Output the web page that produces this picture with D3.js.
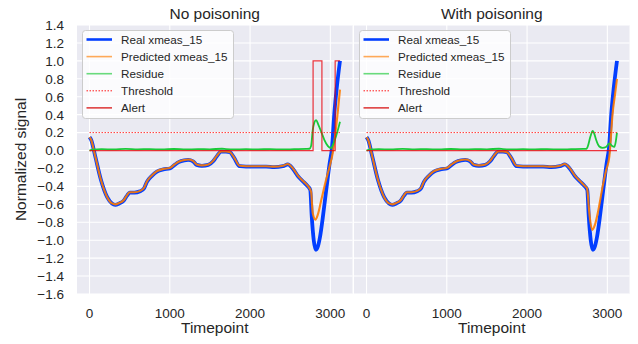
<!DOCTYPE html>
<html>
<head>
<meta charset="utf-8">
<script src="https://cdn.jsdelivr.net/npm/d3@7"></script>
<style>
  body { margin: 0; background: white; }
  text { font-family: "Liberation Sans", Arial, sans-serif; fill: #262626; }
</style>
</head>
<body>
<div id="chart"></div>
<script>
let w = 638;
let h = 344;

// ---- data ----
let panelTitles = ["No poisoning", "With poisoning"];
let seriesNames = ["Real xmeas_15", "Predicted xmeas_15", "Residue", "Threshold", "Alert"];
let yTicks = [-1.6, -1.4, -1.2, -1.0, -0.8, -0.6, -0.4, -0.2, 0.0, 0.2, 0.4, 0.6, 0.8, 1.0, 1.2, 1.4];
let xTicks = [0, 1000, 2000, 3000];

// real signal (same test data in both panels)
let realT = [0, 20, 70, 140, 220, 280, 320, 370, 425, 470, 500, 560, 630, 680, 715, 780, 840, 920, 1000, 1060, 1110, 1180, 1230, 1290, 1335, 1400, 1480, 1540, 1585, 1640, 1700, 1750, 1800, 1870, 1950, 2050, 2200, 2300, 2410, 2470, 2530, 2600, 2660, 2720, 2750, 2768, 2793, 2820, 2845, 2870, 2910, 2950, 2990, 3020, 3050, 3080, 3120];
let realV = [0.15, 0.12, -0.06, -0.32, -0.52, -0.59, -0.605, -0.59, -0.56, -0.5, -0.47, -0.47, -0.455, -0.42, -0.35, -0.28, -0.235, -0.21, -0.2, -0.16, -0.13, -0.11, -0.105, -0.12, -0.16, -0.17, -0.16, -0.12, -0.065, -0.012, -0.012, -0.02, -0.08, -0.175, -0.18, -0.18, -0.18, -0.185, -0.175, -0.155, -0.2, -0.29, -0.345, -0.4, -0.44, -0.73, -1.0, -1.107, -1.07, -0.97, -0.72, -0.43, -0.15, 0.03, 0.42, 0.7, 1.0];

// predicted, no poisoning
let predAT = [0, 20, 70, 140, 220, 280, 320, 370, 425, 470, 500, 560, 630, 680, 715, 780, 840, 920, 1000, 1060, 1110, 1180, 1230, 1290, 1335, 1400, 1480, 1540, 1585, 1640, 1700, 1750, 1800, 1870, 1950, 2050, 2200, 2300, 2410, 2470, 2530, 2600, 2660, 2720, 2760, 2781, 2814, 2843, 2890, 2947, 2990, 3029, 3060, 3091, 3120];
let predAV = [0.15, 0.12, -0.06, -0.32, -0.52, -0.59, -0.6, -0.585, -0.555, -0.495, -0.465, -0.465, -0.45, -0.415, -0.345, -0.275, -0.23, -0.205, -0.195, -0.155, -0.125, -0.105, -0.1, -0.115, -0.155, -0.165, -0.155, -0.115, -0.06, -0.01, -0.01, -0.018, -0.075, -0.17, -0.175, -0.175, -0.175, -0.18, -0.17, -0.15, -0.195, -0.285, -0.34, -0.395, -0.46, -0.7, -0.77, -0.717, -0.54, -0.327, -0.18, -0.03, 0.17, 0.417, 0.68];

// predicted, with poisoning
let predBT = [0, 20, 70, 140, 220, 280, 320, 370, 425, 470, 500, 560, 630, 680, 715, 780, 840, 920, 1000, 1060, 1110, 1180, 1230, 1290, 1335, 1400, 1480, 1540, 1585, 1640, 1700, 1750, 1800, 1870, 1950, 2050, 2200, 2300, 2410, 2470, 2530, 2600, 2660, 2720, 2747, 2776, 2810, 2845, 2880, 2942, 2985, 3025, 3066, 3095, 3120];
let predBV = [0.15, 0.12, -0.06, -0.32, -0.52, -0.59, -0.6, -0.585, -0.555, -0.495, -0.465, -0.465, -0.45, -0.415, -0.345, -0.275, -0.23, -0.205, -0.195, -0.155, -0.125, -0.105, -0.1, -0.115, -0.155, -0.165, -0.155, -0.115, -0.06, -0.01, -0.01, -0.018, -0.075, -0.17, -0.175, -0.175, -0.175, -0.18, -0.17, -0.15, -0.195, -0.285, -0.34, -0.395, -0.42, -0.7, -0.885, -0.83, -0.7, -0.4, -0.22, -0.067, 0.417, 0.62, 0.8];

// residue, no poisoning
let resAT = [0, 40, 150, 300, 450, 600, 750, 900, 1050, 1200, 1350, 1500, 1650, 1700, 1800, 1950, 2100, 2250, 2400, 2550, 2700, 2740, 2760, 2781, 2800, 2822, 2850, 2890, 2925, 2970, 3008, 3040, 3070, 3100, 3120];
let resAV = [0.0, 0.01, 0.015, 0.012, 0.018, 0.014, 0.016, 0.012, 0.017, 0.013, 0.015, 0.014, 0.02, 0.016, 0.012, 0.015, 0.013, 0.016, 0.012, 0.015, 0.018, 0.02, 0.05, 0.23, 0.31, 0.34, 0.29, 0.2, 0.12, 0.05, 0.027, 0.08, 0.156, 0.25, 0.32];

// residue, with poisoning
let resBT = [0, 40, 150, 300, 450, 600, 750, 900, 1050, 1200, 1350, 1500, 1650, 1700, 1800, 1950, 2100, 2250, 2400, 2550, 2700, 2740, 2756, 2790, 2818, 2840, 2860, 2900, 2940, 2984, 3025, 3060, 3087, 3105, 3120];
let resBV = [0.0, 0.01, 0.015, 0.012, 0.018, 0.014, 0.016, 0.012, 0.017, 0.013, 0.015, 0.014, 0.02, 0.016, 0.012, 0.015, 0.013, 0.016, 0.012, 0.015, 0.018, 0.02, 0.045, 0.16, 0.22, 0.18, 0.12, 0.045, 0.03, 0.04, 0.08, 0.05, 0.04, 0.1, 0.2];

let thresholdV = 0.2;

// alert steps
let alertAT = [0, 2785, 2895, 3060, 3120];
let alertAV = [0, 1, 0, 1, 1];
let alertBT = [0, 3120];
let alertBV = [0, 0];

function zipTV(ts, vs) { return ts.map((t, i) => ({t: t, v: vs[i]})); }

let panels = [
  { title: panelTitles[0], real: zipTV(realT, realV), pred: zipTV(predAT, predAV), res: zipTV(resAT, resAV), alert: zipTV(alertAT, alertAV), x0: 77 },
  { title: panelTitles[1], real: zipTV(realT, realV), pred: zipTV(predBT, predBV), res: zipTV(resBT, resBV), alert: zipTV(alertBT, alertBV), x0: 354 }
];

let plotW = 275.5;
let plotTop = 25;
let plotBottom = 294;

let colors = {
  real: "#023eff",
  pred: "#ff7c00",
  res: "#1ac938",
  thr: "#ff0000",
  alert: "#e8000b"
};

let svg = d3.select("#chart").append("svg")
  .attr("width", w)
  .attr("height", h);

// matplotlib style 5% margins on x
let tMax = d3.max(realT);
let pad = tMax * 0.05;

let y = d3.scaleLinear().domain([-1.6, 1.4]).range([plotBottom, plotTop]);
let fmt = d3.format(".1f");

panels.forEach((p, pi) => {
  let x = d3.scaleLinear().domain([-pad, tMax + pad]).range([p.x0, p.x0 + plotW]);
  let g = svg.append("g");

  // background
  g.append("rect")
    .attr("x", p.x0).attr("y", plotTop)
    .attr("width", plotW).attr("height", plotBottom - plotTop)
    .attr("fill", "#eaeaf2");

  // grid
  g.selectAll(".hgrid").data(yTicks).enter().append("line")
    .attr("x1", p.x0).attr("x2", p.x0 + plotW)
    .attr("y1", d => y(d)).attr("y2", d => y(d))
    .attr("stroke", "white").attr("stroke-width", 1.1);
  g.selectAll(".vgrid").data(xTicks).enter().append("line")
    .attr("x1", d => x(d)).attr("x2", d => x(d))
    .attr("y1", plotTop).attr("y2", plotBottom)
    .attr("stroke", "white").attr("stroke-width", 1.1);

  let clipId = "clip" + pi;
  svg.append("clipPath").attr("id", clipId).append("rect")
    .attr("x", p.x0).attr("y", plotTop).attr("width", plotW).attr("height", plotBottom - plotTop);
  let lines = g.append("g").attr("clip-path", "url(#" + clipId + ")");

  let smooth = d3.line().x(d => x(d.t)).y(d => y(d.v)).curve(d3.curveMonotoneX);
  let step = d3.line().x(d => x(d.t)).y(d => y(d.v)).curve(d3.curveStepAfter);

  lines.append("path").attr("d", smooth(p.real))
    .attr("fill", "none").attr("stroke", colors.real).attr("stroke-width", 3.8)
    .attr("stroke-linejoin", "round");
  lines.append("path").attr("d", smooth(p.pred))
    .attr("fill", "none").attr("stroke", colors.pred).attr("stroke-width", 2.1)
    .attr("stroke-opacity", 0.9);
  lines.append("path").attr("d", smooth(p.res))
    .attr("fill", "none").attr("stroke", colors.res).attr("stroke-width", 1.8);
  lines.append("line")
    .attr("x1", x(0)).attr("x2", x(tMax))
    .attr("y1", y(thresholdV)).attr("y2", y(thresholdV))
    .attr("stroke", colors.thr).attr("stroke-width", 1)
    .attr("stroke-dasharray", "1.5,1.5").attr("stroke-opacity", 0.8);
  lines.append("path").attr("d", step(p.alert))
    .attr("fill", "none").attr("stroke", colors.alert).attr("stroke-width", 1.2)
    .attr("stroke-opacity", 0.8);

  // x tick labels
  g.selectAll(".xt").data(xTicks).enter().append("text")
    .attr("x", d => x(d)).attr("y", 318)
    .attr("text-anchor", "middle").attr("font-size", "13.5px")
    .text(d => d);

  // title + x label
  g.append("text")
    .attr("x", p.x0 + plotW / 2).attr("y", 19)
    .attr("text-anchor", "middle").attr("font-size", "15.5px")
    .text(p.title);
  g.append("text")
    .attr("x", p.x0 + plotW / 2).attr("y", 333)
    .attr("text-anchor", "middle").attr("font-size", "15.5px")
    .text("Timepoint");

  // legend
  let lg = g.append("g").attr("transform", "translate(" + (p.x0 + 5.5) + "," + 30.5 + ")");
  lg.append("rect")
    .attr("width", 151).attr("height", 88).attr("rx", 3)
    .attr("fill", "white").attr("fill-opacity", 0.8)
    .attr("stroke", "#cccccc").attr("stroke-width", 1);
  let legendStyles = [
    { c: colors.real, sw: 2.6, dash: null, op: 1 },
    { c: colors.pred, sw: 1.6, dash: null, op: 0.65 },
    { c: colors.res, sw: 1.6, dash: null, op: 0.65 },
    { c: colors.thr, sw: 1, dash: "1.5,1.5", op: 0.9 },
    { c: "#d40000", sw: 1.2, dash: null, op: 1 }
  ];
  seriesNames.forEach((name, i) => {
    let ry = 9 + i * 17.1;
    let ln = lg.append("line")
      .attr("x1", 4).attr("x2", 29.5)
      .attr("y1", ry).attr("y2", ry)
      .attr("stroke", legendStyles[i].c)
      .attr("stroke-width", legendStyles[i].sw)
      .attr("stroke-opacity", legendStyles[i].op);
    if (legendStyles[i].dash) ln.attr("stroke-dasharray", legendStyles[i].dash);
    lg.append("text")
      .attr("x", 38.5).attr("y", ry + 4)
      .attr("font-size", "11.7px")
      .text(name);
  });
});

// y tick labels (shared axis, left panel only)
svg.selectAll(".yt").data(yTicks).enter().append("text")
  .attr("x", 64).attr("y", d => y(d))
  .attr("dy", "0.36em")
  .attr("text-anchor", "end").attr("font-size", "13.5px")
  .text(d => fmt(d));

svg.append("text")
  .attr("transform", "translate(25.5," + ((plotTop + plotBottom) / 2) + ") rotate(-90)")
  .attr("text-anchor", "middle").attr("font-size", "15.5px")
  .text("Normalized signal");
</script>
</body>
</html>
